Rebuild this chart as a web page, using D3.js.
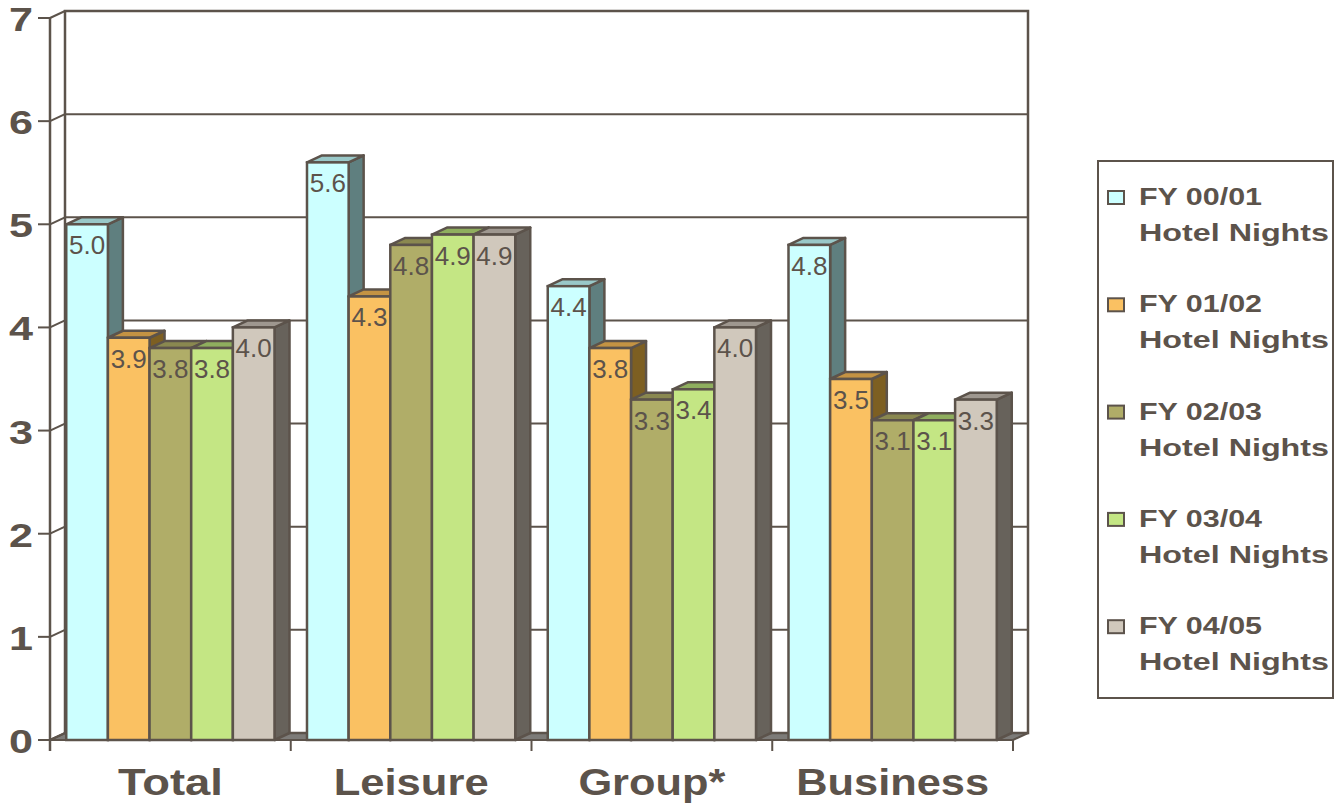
<!DOCTYPE html>
<html><head><meta charset="utf-8">
<script src="https://cdn.jsdelivr.net/npm/d3@7"></script>
<style>body{margin:0;background:#fff}svg{display:block}</style>
</head><body>
<svg id="c" width="1338" height="804"></svg>
<script>
const categories = ["Total", "Leisure", "Group*", "Business"];
const seriesNames = ["FY 00/01", "FY 01/02", "FY 02/03", "FY 03/04", "FY 04/05"];
const fy0001 = [5.0, 5.6, 4.4, 4.8];
const fy0102 = [3.9, 4.3, 3.8, 3.5];
const fy0203 = [3.8, 4.8, 3.3, 3.1];
const fy0304 = [3.8, 4.9, 3.4, 3.1];
const fy0405 = [4.0, 4.9, 4.0, 3.3];
const yTicks = [0, 1, 2, 3, 4, 5, 6, 7];
const legendSub = "Hotel Nights";

const seriesValues = [fy0001, fy0102, fy0203, fy0304, fy0405];
const faceCol = ["#ccffff", "#fac162", "#b0ad68", "#c4e684", "#d0c8bc"];
const topCol  = ["#99c8c8", "#c49343", "#8a8850", "#8fae5e", "#9e978f"];
const sideCol = ["#5f7f7f", "#7d5f22", "#6b6a3c", "#6c8747", "#67625b"];
const catWidths = [105, 155, 147, 193];
const INK = "#5c534b";
const FONT = "'Liberation Sans', Arial, sans-serif";

const svg = d3.select("#c");
const DX = 15, DY = -7;
const y = d3.scaleLinear().domain([0, 7]).range([740, 18]);
const x0 = d3.scaleBand().domain(categories).range([50, 1013]).paddingInner(0).paddingOuter(0);
const x1 = d3.scaleBand().domain(seriesNames).range([0, x0.bandwidth()]).paddingInner(0).paddingOuter(0.39);
const xL = 50, xR = 1013;

svg.append("polygon")
  .attr("points", [[xL, y(0)], [xR, y(0)], [xR + DX, y(0) + DY], [xL + DX, y(0) + DY]].map(p => p.join(",")).join(" "))
  .attr("fill", "#7d7b78").attr("stroke", INK).attr("stroke-width", 2);

svg.append("rect").attr("x", xL + DX).attr("y", y(7) + DY).attr("width", xR - xL).attr("height", y(0) - y(7))
  .attr("fill", "#fff").attr("stroke", INK).attr("stroke-width", 2.5);

yTicks.forEach(t => {
  if (t > 0) {
    svg.append("line").attr("x1", xL + DX).attr("x2", xR + DX).attr("y1", y(t) + DY).attr("y2", y(t) + DY)
      .attr("stroke", INK).attr("stroke-width", 2);
  }
  svg.append("line").attr("x1", xL).attr("x2", xL + DX).attr("y1", y(t)).attr("y2", y(t) + DY)
    .attr("stroke", INK).attr("stroke-width", 2);
  svg.append("line").attr("x1", xL - 12).attr("x2", xL).attr("y1", y(t)).attr("y2", y(t))
    .attr("stroke", INK).attr("stroke-width", 2);
  svg.append("text").attr("x", 9).attr("y", y(t) + 13)
    .attr("font-family", FONT).attr("font-weight", "bold").attr("font-size", 34)
    .attr("textLength", 24).attr("lengthAdjust", "spacingAndGlyphs")
    .attr("fill", INK).text(t);
});
svg.append("line").attr("x1", xL).attr("x2", xL).attr("y1", y(7)).attr("y2", y(0) + 11).attr("stroke", INK).attr("stroke-width", 2.5);
svg.append("line").attr("x1", xL + DX).attr("x2", xL + DX).attr("y1", y(7) + DY).attr("y2", y(0) + DY).attr("stroke", INK).attr("stroke-width", 2);

const bounds = categories.map(c => x0(c)).concat([xR]);
bounds.forEach(b => {
  svg.append("line").attr("x1", b).attr("x2", b).attr("y1", y(0)).attr("y2", y(0) + 11).attr("stroke", INK).attr("stroke-width", 2);
});

const bw = x1.bandwidth();
categories.forEach((c, ci) => {
  seriesNames.forEach((s, si) => {
    const v = seriesValues[si][ci];
    const bx = x0(c) + x1(s), by = y(v), b0 = y(0);
    const g = svg.append("g");
    g.append("polygon")
      .attr("points", [[bx + bw, by], [bx + bw + DX, by + DY], [bx + bw + DX, b0 + DY], [bx + bw, b0]].map(p => p.join(",")).join(" "))
      .attr("fill", sideCol[si]).attr("stroke", INK).attr("stroke-width", 2.5).attr("stroke-linejoin", "round");
    g.append("polygon")
      .attr("points", [[bx, by], [bx + bw, by], [bx + bw + DX, by + DY], [bx + DX, by + DY]].map(p => p.join(",")).join(" "))
      .attr("fill", topCol[si]).attr("stroke", INK).attr("stroke-width", 2.5).attr("stroke-linejoin", "round");
    g.append("rect").attr("x", bx).attr("y", by).attr("width", bw).attr("height", b0 - by)
      .attr("fill", faceCol[si]).attr("stroke", INK).attr("stroke-width", 2.5);
    g.append("text").attr("x", bx + bw / 2).attr("y", by + 30).attr("text-anchor", "middle")
      .attr("font-family", FONT).attr("font-size", 26).attr("fill", INK).text(v.toFixed(1));
  });
});

categories.forEach((c, ci) => {
  const cx = x0(c) + x0.bandwidth() / 2;
  svg.append("text").attr("x", cx - catWidths[ci] / 2).attr("y", 795)
    .attr("font-family", FONT).attr("font-weight", "bold").attr("font-size", 37)
    .attr("textLength", catWidths[ci]).attr("lengthAdjust", "spacingAndGlyphs")
    .attr("fill", INK).text(c);
});

svg.append("rect").attr("x", 1098).attr("y", 161).attr("width", 235).attr("height", 537)
  .attr("fill", "#fff").attr("stroke", INK).attr("stroke-width", 2);
seriesNames.forEach((s, i) => {
  const base = 205 + i * 107.3;
  svg.append("rect").attr("x", 1108).attr("y", base - 14).attr("width", 16).attr("height", 13)
    .attr("fill", faceCol[i]).attr("stroke", INK).attr("stroke-width", 2);
  svg.append("text").attr("x", 1139).attr("y", base).attr("font-family", FONT).attr("font-weight", "bold")
    .attr("font-size", 24).attr("fill", INK).attr("textLength", 123).attr("lengthAdjust", "spacingAndGlyphs").text(s);
  svg.append("text").attr("x", 1139).attr("y", base + 36).attr("font-family", FONT).attr("font-weight", "bold")
    .attr("font-size", 24).attr("fill", INK).attr("textLength", 190).attr("lengthAdjust", "spacingAndGlyphs").text(legendSub);
});
</script>
</body></html>
